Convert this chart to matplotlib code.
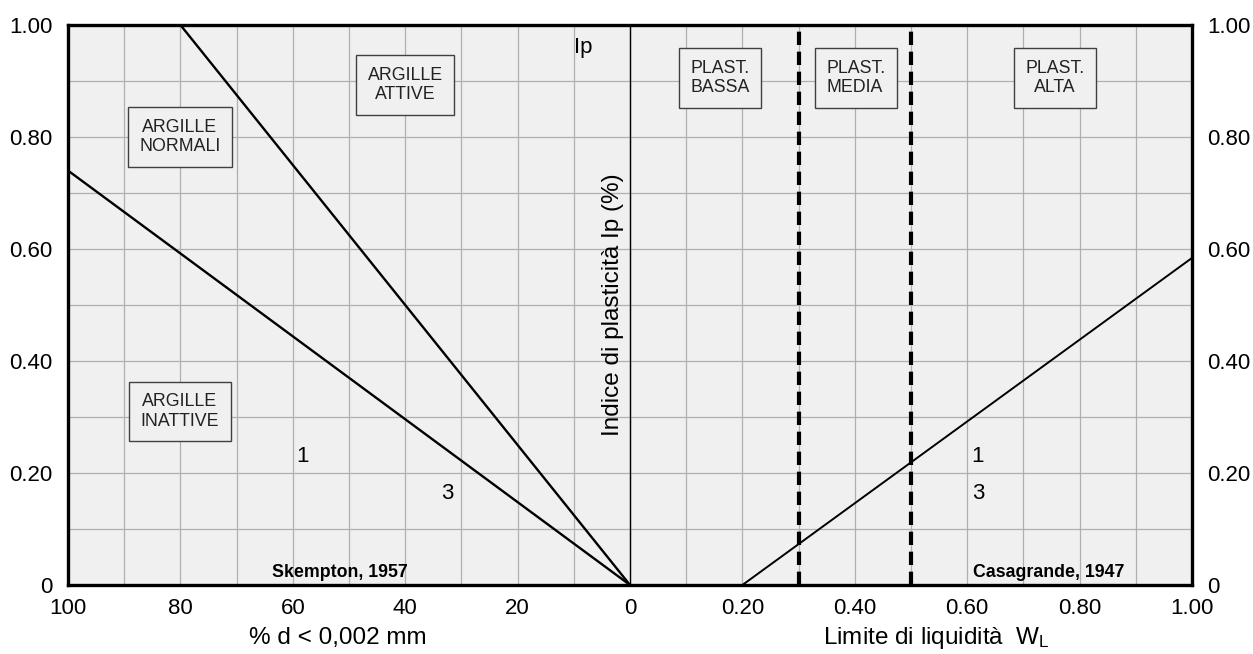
import matplotlib.pyplot as plt

plt.rcParams['font.family'] = ['Liberation Sans', 'DejaVu Sans']

# Skempton (left half): % clay fraction vs Ip
active_clay = [80, 0]
active_ip = [1.00, 0]
normal_clay = [100, 0]
normal_ip = [0.74, 0]

# Casagrande (right half): liquid limit vs Ip
aline_wl = [0.20, 1.00]
aline_ip = [0.0, 0.584]
plast_limits = [0.30, 0.50]

y_ticks = [0, 0.2, 0.4, 0.6, 0.8, 1.0]
y_labels = ['0', '0.20', '0.40', '0.60', '0.80', '1.00']
x_left_ticks = [100, 80, 60, 40, 20, 0]
x_right_ticks = [0.20, 0.40, 0.60, 0.80, 1.00]


# left half uses -clay, right half uses wl*100, both on one axis
def left_x(vals):
    return [-v for v in vals]


def right_x(vals):
    return [v * 100 for v in vals]


fig = plt.figure(figsize=(12.53, 6.54), dpi=100)
ax = fig.add_axes([0.0543, 0.1055, 0.8970, 0.8563])
ax.set_facecolor('#f0f0f0')
ax.set_xlim(-100, 100)
ax.set_ylim(0, 1)

# grid
for gx in range(-90, 100, 10):
    ax.axvline(gx, color='#b0b0b0', lw=0.9, zorder=1)
for gy in [0.1 * i for i in range(1, 10)]:
    ax.axhline(gy, color='#b0b0b0', lw=0.9, zorder=1)
ax.axvline(0, color='black', lw=1.0, zorder=2)

ax.plot(left_x(active_clay), active_ip, color='black', lw=1.7, zorder=3)
ax.plot(left_x(normal_clay), normal_ip, color='black', lw=1.7, zorder=3)
ax.plot(right_x(aline_wl), aline_ip, color='black', lw=1.4, zorder=3)
for wl in right_x(plast_limits):
    ax.axvline(wl, color='black', lw=3, linestyle=(0, (3.2, 1.6)), zorder=3)

for s in ax.spines.values():
    s.set_linewidth(2.4)

xt = left_x(x_left_ticks) + right_x(x_right_ticks)
xl = [str(v) for v in x_left_ticks] + ['%.2f' % v for v in x_right_ticks]
ax.set_xticks(xt)
ax.set_xticklabels(xl, fontsize=16)
ax.set_yticks(y_ticks)
ax.set_yticklabels(y_labels, fontsize=16)
ax.tick_params(axis='both', length=0, pad=9)
ax.tick_params(axis='y', labelright=True, pad=11)

box = dict(boxstyle='square,pad=0.65', facecolor='#f0f0f0', edgecolor='#404040', lw=1.0)
boxes = [
    (-80.1, 0.80, 'ARGILLE\nNORMALI', 'center'),
    (-40.0, 0.893, 'ARGILLE\nATTIVE', 'center'),
    (-80.1, 0.31, 'ARGILLE\nINATTIVE', 'center'),
    (16.0, 0.905, 'PLAST.\nBASSA', 'left'),
    (40.2, 0.905, 'PLAST.\nMEDIA', 'left'),
    (75.6, 0.905, 'PLAST.\nALTA', 'center'),
]
for bx, by, txt, al in boxes:
    ax.text(bx, by, txt, ha='center', va='center', multialignment=al,
            fontsize=12.8, color='#222222', bbox=box, zorder=5, linespacing=1.2)

ax.text(-8.4, 0.96, 'Ip', ha='center', va='center', fontsize=16, zorder=5)
ax.text(-58.2, 0.229, '1', ha='center', va='center', fontsize=16, zorder=5)
ax.text(-32.6, 0.163, '3', ha='center', va='center', fontsize=16, zorder=5)
ax.text(61.9, 0.229, '1', ha='center', va='center', fontsize=16, zorder=5)
ax.text(61.9, 0.163, '3', ha='center', va='center', fontsize=16, zorder=5)
ax.text(-39.5, 0.008, 'Skempton, 1957', ha='right', va='bottom', fontsize=12.8,
        fontweight='bold', zorder=5)
ax.text(88.0, 0.008, 'Casagrande, 1947', ha='right', va='bottom', fontsize=12.8,
        fontweight='bold', zorder=5)
ax.text(-3.0, 0.50, 'Indice di plasticità Ip (%)', rotation=90, ha='center',
        va='center', fontsize=17.5, zorder=5)

fig.text(0.270, 0.025, '% d < 0,002 mm', ha='center', va='center', fontsize=17.5)
fig.text(0.747, 0.025, r'Limite di liquidità  W$\mathregular{_L}$', ha='center',
         va='center', fontsize=17.5)

fig.savefig('out.png', dpi=100)
